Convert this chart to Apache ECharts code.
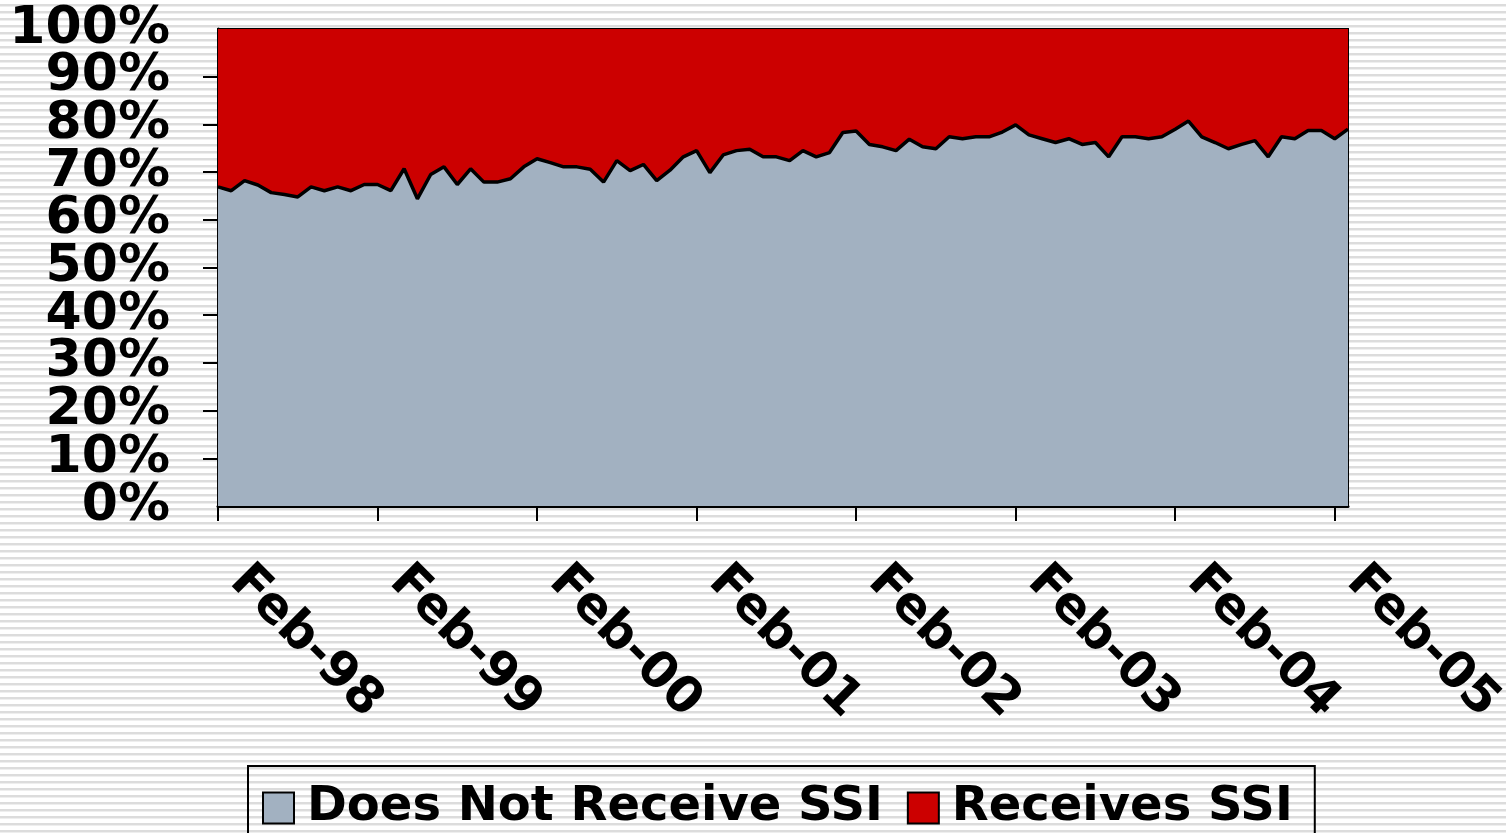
<!DOCTYPE html>
<html>
<head>
<meta charset="utf-8">
<script src="https://cdn.jsdelivr.net/npm/echarts@6/dist/echarts.min.js"></script>
<style>
  html, body { margin: 0; padding: 0; }
  body {
    width: 1506px; height: 833px; overflow: hidden;
    background: repeating-linear-gradient(to bottom, #ffffff 0px, #ffffff 4px, #dcdcdc 4px, #dcdcdc 6px, #eeeeee 6px, #eeeeee 7px);
  }
  #chart { width: 1506px; height: 833px; }
</style>
</head>
<body>
<div id="chart"></div>
<script>
const months = [
  'Feb-98','Mar-98','Apr-98','May-98','Jun-98','Jul-98','Aug-98','Sep-98','Oct-98','Nov-98','Dec-98','Jan-99',
  'Feb-99','Mar-99','Apr-99','May-99','Jun-99','Jul-99','Aug-99','Sep-99','Oct-99','Nov-99','Dec-99','Jan-00',
  'Feb-00','Mar-00','Apr-00','May-00','Jun-00','Jul-00','Aug-00','Sep-00','Oct-00','Nov-00','Dec-00','Jan-01',
  'Feb-01','Mar-01','Apr-01','May-01','Jun-01','Jul-01','Aug-01','Sep-01','Oct-01','Nov-01','Dec-01','Jan-02',
  'Feb-02','Mar-02','Apr-02','May-02','Jun-02','Jul-02','Aug-02','Sep-02','Oct-02','Nov-02','Dec-02','Jan-03',
  'Feb-03','Mar-03','Apr-03','May-03','Jun-03','Jul-03','Aug-03','Sep-03','Oct-03','Nov-03','Dec-03','Jan-04',
  'Feb-04','Mar-04','Apr-04','May-04','Jun-04','Jul-04','Aug-04','Sep-04','Oct-04','Nov-04','Dec-04','Jan-05',
  'Feb-05','Mar-05'
]

// share of people (%) not receiving SSI
const notReceive = [
  66.9, 66.1, 68.2, 67.3, 65.7, 65.3, 64.8, 66.9, 66.1, 66.9, 66.1, 67.4,
  67.4, 66.1, 70.7, 64.4, 69.5, 71.1, 67.4, 70.7, 67.9, 67.9, 68.6, 71.1,
  72.8, 72.0, 71.1, 71.1, 70.6, 67.9, 72.4, 70.3, 71.6, 68.2, 70.4, 73.2,
  74.5, 69.9, 73.6, 74.5, 74.8, 73.2, 73.2, 72.4, 74.5, 73.2, 74.1, 78.3,
  78.6, 75.8, 75.3, 74.5, 76.9, 75.3, 74.9, 77.4, 77.0, 77.4, 77.4, 78.4,
  79.9, 77.8, 77.0, 76.2, 77.0, 75.8, 76.2, 73.2, 77.4, 77.4, 77.0, 77.4,
  79.0, 80.7, 77.4, 76.2, 74.9, 75.8, 76.6, 73.2, 77.4, 77.0, 78.7, 78.7,
  77.0, 79.0
]

// share of people (%) receiving SSI
const receive = [
  33.1, 33.9, 31.8, 32.7, 34.3, 34.7, 35.2, 33.1, 33.9, 33.1, 33.9, 32.6,
  32.6, 33.9, 29.3, 35.6, 30.5, 28.9, 32.6, 29.3, 32.1, 32.1, 31.4, 28.9,
  27.2, 28.0, 28.9, 28.9, 29.4, 32.1, 27.6, 29.7, 28.4, 31.8, 29.6, 26.8,
  25.5, 30.1, 26.4, 25.5, 25.2, 26.8, 26.8, 27.6, 25.5, 26.8, 25.9, 21.7,
  21.4, 24.2, 24.7, 25.5, 23.1, 24.7, 25.1, 22.6, 23.0, 22.6, 22.6, 21.6,
  20.1, 22.2, 23.0, 23.8, 23.0, 24.2, 23.8, 26.8, 22.6, 22.6, 23.0, 22.6,
  21.0, 19.3, 22.6, 23.8, 25.1, 24.2, 23.4, 26.8, 22.6, 23.0, 21.3, 21.3,
  23.0, 21.0
]

const font = 'DejaVu Sans'
const yLabel = {
  margin: 48,
  fontFamily: font,
  fontWeight: 'bold',
  fontSize: 52,
  color: '#000'
}

var myChart = echarts.init(document.getElementById('chart'), null, { renderer: 'canvas' })
myChart.setOption({
  backgroundColor: 'transparent',
  animation: false,
  grid: {
    left: 218,
    top: 29,
    right: 158,
    bottom: 327,
    outerBoundsMode: 'none',
    show: true,
    borderColor: '#000',
    borderWidth: 2,
    backgroundColor: 'transparent'
  },
  legend: {
    left: 248,
    top: 766,
    padding: [18, 22, 30, 14],
    borderColor: '#000',
    borderWidth: 2,
    itemGap: 24,
    itemWidth: 31,
    itemHeight: 31,
    icon: 'rect',
    textStyle: {
      fontFamily: font,
      fontWeight: 'bold',
      fontSize: 48,
      color: '#000',
      padding: [0, 0, 0, 8]
    },
    data: [
      { name: 'Does Not Receive SSI', itemStyle: { color: '#a2b1c1', borderColor: '#000', borderWidth: 2 } },
      { name: 'Receives SSI', itemStyle: { color: '#cc0000', borderColor: '#000', borderWidth: 2 } }
    ]
  },
  xAxis: {
    type: 'category',
    data: months,
    boundaryGap: false,
    axisLine: { lineStyle: { color: '#000', width: 3 } },
    axisTick: {
      length: 15,
      lineStyle: { color: '#000', width: 2 },
      interval: (i) => i % 12 === 0
    },
    axisLabel: {
      interval: (i) => i % 12 === 0,
      rotate: -45,
      margin: 48,
      padding: [0, 0, 0, 28],
      fontFamily: font,
      fontWeight: 'bold',
      fontSize: 50,
      color: '#000'
    },
    splitLine: { show: false }
  },
  yAxis: [
    {
      type: 'value',
      min: 0,
      max: 100,
      interval: 10,
      axisLine: { show: true, lineStyle: { color: '#000', width: 3 } },
      axisTick: { show: true, length: 15, lineStyle: { color: '#000', width: 2 } },
      axisLabel: Object.assign({ formatter: '{value}%' }, yLabel),
      splitLine: { show: false }
    },
    {
      // second copy of the same scale, only to print the 0% and 100% ends
      type: 'value',
      position: 'left',
      min: 0,
      max: 100,
      interval: 10,
      axisLine: { show: false },
      axisTick: { show: false },
      axisLabel: Object.assign({
        formatter: (v) => (v === 0 || v === 100) ? v + '%' : '',
        showMinLabel: true,
        showMaxLabel: true
      }, yLabel),
      splitLine: { show: false }
    }
  ],
  series: [
    {
      name: 'Does Not Receive SSI',
      type: 'line',
      stack: 'ssi',
      data: notReceive,
      symbol: 'none',
      lineStyle: { color: '#000', width: 3.5 },
      itemStyle: { color: '#a2b1c1' },
      areaStyle: { color: '#a2b1c1', opacity: 1 }
    },
    {
      name: 'Receives SSI',
      type: 'line',
      stack: 'ssi',
      data: receive,
      symbol: 'none',
      lineStyle: { width: 0 },
      itemStyle: { color: '#cc0000' },
      areaStyle: { color: '#cc0000', opacity: 1 }
    }
  ]
})
</script>
</body>
</html>
